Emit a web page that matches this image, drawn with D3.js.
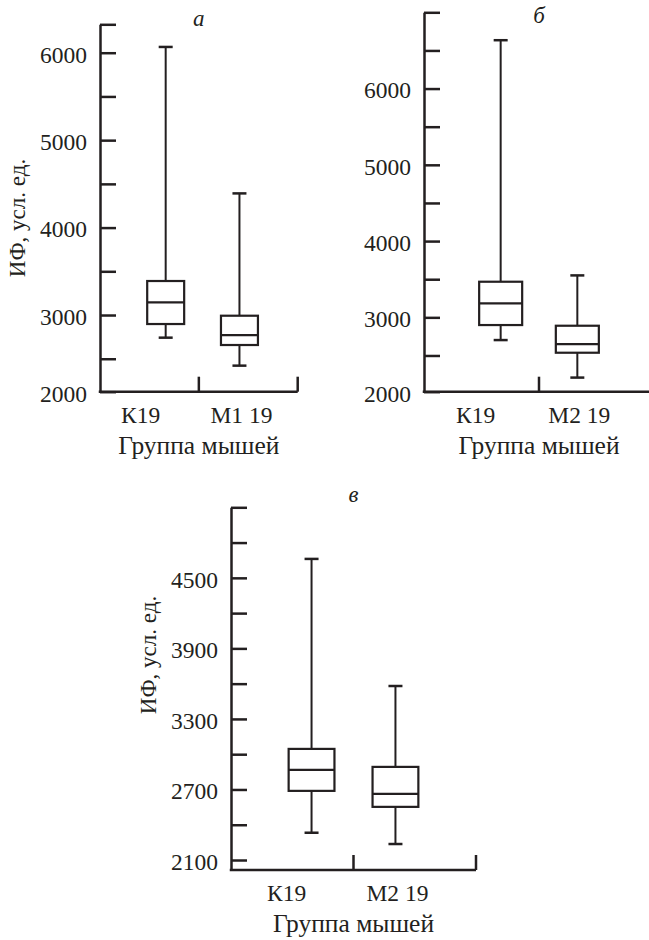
<!DOCTYPE html>
<html>
<head>
<meta charset="utf-8">
<script src="https://cdn.jsdelivr.net/npm/d3@7"></script>
</head>
<body style="margin:0; background:#fff">
<script>
var width = 649;
var height = 940;

// groups per panel
var groupsA = ["К19", "М1 19"];
var groupsB = ["К19", "М2 19"];
var groupsC = ["К19", "М2 19"];

// box stats: lower whisker, q1, median, q3, upper whisker
var lowA = [2741, 2421], q1A = [2897, 2657], medA = [3145, 2771], q3A = [3389, 2992], highA = [6066, 4391];
var lowB = [2702, 2210], q1B = [2899, 2536], medB = [3183, 2650], q3B = [3467, 2890], highB = [6634, 3550];
var lowC = [2332, 2236], q1C = [2688, 2552], medC = [2866, 2663], q3C = [3045, 2892], highC = [4661, 3580];

// axis extents and ticks
var domainA = [2123, 6325], labelTicksA = [2000, 3000, 4000, 5000, 6000], minorTicksA = [2500, 3500, 4500, 5500];
var domainB = [2025, 7000], labelTicksB = [2000, 3000, 4000, 5000, 6000], minorTicksB = [2500, 3500, 4500, 5500, 6500];
var domainC = [2015, 5100], labelTicksC = [2100, 2700, 3300, 3900, 4500], minorTicksC = [2400, 3000, 3600, 4200, 4800];

var yTitle = "ИФ, усл. ед.";
var xTitle = "Группа мышей";

var svg = d3.select("body").append("svg")
            .attr("width", width)
            .attr("height", height)
            .style("font-family", "'Liberation Serif'");

var ink = "#231f20";

// apply font to a text selection
var setFont = function(sel, size, italic) {
    sel.attr("style", "font-family: 'Liberation Serif'; font-size: " + (size || 23) + "px; fill: " + ink + (italic ? "; font-style: italic" : ""));
};

var labelShift = [-25, 2];

var draw = function(p) {
    var g = svg.append("g");
    var y = d3.scaleLinear().domain(p.domain).range([p.bottom, p.top]).clamp(true);
    var xPos = d3.scalePoint().domain(p.groups).range([p.left, p.right]).padding(p.pad).align(p.align);
    var xBand = d3.scaleBand().domain(p.groups).range([p.left, p.right]);
    var W = p.right - p.left;
    var boxW = W * 0.187;
    var capW = 14;

    // y axis, ticks pointing inward
    var allTicks = p.labelTicks.concat(p.minorTicks, [p.domain[1]]);
    var yAxis = d3.axisLeft(y)
        .tickValues(allTicks)
        .tickSizeInner(-16)
        .tickSizeOuter(0)
        .tickPadding(13)
        .tickFormat(function(d) { return p.labelTicks.indexOf(d) >= 0 ? d : ""; });
    var ya = g.append("g").attr("transform", "translate(" + p.left + ",0)").call(yAxis);
    ya.attr("font-family", null).attr("font-size", null);
    ya.selectAll("path, line").attr("stroke", ink).attr("stroke-width", 2.5);
    ya.selectAll("text").attr("dy", "0.4em").call(setFont, 23.5);

    // x axis line with upward ticks at band edges
    g.append("line")
     .attr("x1", p.left - 1.25).attr("x2", p.right)
     .attr("y1", p.bottom).attr("y2", p.bottom)
     .attr("stroke", ink).attr("stroke-width", 2.5);
    g.selectAll(".xtick").data(p.groups).enter().append("line")
     .attr("x1", function(d) { return xBand(d) + xBand.bandwidth(); })
     .attr("x2", function(d) { return xBand(d) + xBand.bandwidth(); })
     .attr("y1", p.bottom).attr("y2", p.bottom - 15)
     .attr("stroke", ink).attr("stroke-width", 2.5);

    // group labels
    g.selectAll(".xlab").data(p.groups).enter().append("text")
     .attr("x", function(d, i) { return xPos(d) + labelShift[i]; })
     .attr("y", p.bottom + 23)
     .attr("dy", "0.35em")
     .attr("text-anchor", "middle")
     .text(function(d) { return d; })
     .call(setFont, 23.5);

    g.append("text")
     .attr("x", p.left + W / 2)
     .attr("y", p.bottom + 53)
     .attr("dy", "0.35em")
     .attr("text-anchor", "middle")
     .text(xTitle)
     .call(setFont, 25.5);

    if (p.titleY) {
        g.append("text")
         .attr("transform", "translate(" + (p.left - 83) + "," + p.titleY + ") rotate(-90)")
         .attr("dy", "0.35em")
         .attr("text-anchor", "middle")
         .text(yTitle)
         .call(setFont, 23);
    }

    // panel letter
    g.append("text")
     .attr("x", p.left + W / 2)
     .attr("y", p.letterY)
     .attr("text-anchor", "middle")
     .text(p.letter)
     .call(setFont, 23, true);

    // boxes
    var boxes = g.selectAll(".box").data(p.groups).enter().append("g");
    boxes.append("line")   // whisker
         .attr("x1", function(d) { return xPos(d); })
         .attr("x2", function(d) { return xPos(d); })
         .attr("y1", function(d, i) { return y(p.low[i]); })
         .attr("y2", function(d, i) { return y(p.high[i]); })
         .attr("stroke", ink).attr("stroke-width", 2);
    boxes.append("line")   // top cap
         .attr("x1", function(d) { return xPos(d) - capW / 2; })
         .attr("x2", function(d) { return xPos(d) + capW / 2; })
         .attr("y1", function(d, i) { return y(p.high[i]); })
         .attr("y2", function(d, i) { return y(p.high[i]); })
         .attr("stroke", ink).attr("stroke-width", 2.5);
    boxes.append("line")   // bottom cap
         .attr("x1", function(d) { return xPos(d) - capW / 2; })
         .attr("x2", function(d) { return xPos(d) + capW / 2; })
         .attr("y1", function(d, i) { return y(p.low[i]); })
         .attr("y2", function(d, i) { return y(p.low[i]); })
         .attr("stroke", ink).attr("stroke-width", 2.5);
    boxes.append("rect")
         .attr("x", function(d) { return xPos(d) - boxW / 2; })
         .attr("width", boxW)
         .attr("y", function(d, i) { return y(p.q3[i]); })
         .attr("height", function(d, i) { return y(p.q1[i]) - y(p.q3[i]); })
         .attr("fill", "#fff")
         .attr("stroke", ink).attr("stroke-width", 2.2);
    boxes.append("line")   // median
         .attr("x1", function(d) { return xPos(d) - boxW / 2; })
         .attr("x2", function(d) { return xPos(d) + boxW / 2; })
         .attr("y1", function(d, i) { return y(p.med[i]); })
         .attr("y2", function(d, i) { return y(p.med[i]); })
         .attr("stroke", ink).attr("stroke-width", 2.2);
};

draw({ groups: groupsA, low: lowA, q1: q1A, med: medA, q3: q3A, high: highA,
       domain: domainA, labelTicks: labelTicksA, minorTicks: minorTicksA, pad: 0.84, align: 0.53,
       left: 100, right: 297.7, top: 24.3, bottom: 391.7, titleY: 218, letter: "а", letterY: 26 });
draw({ groups: groupsB, low: lowB, q1: q1B, med: medB, q3: q3B, high: highB,
       domain: domainB, labelTicks: labelTicksB, minorTicks: minorTicksB, pad: 1, align: 0.5,
       left: 424, right: 654, top: 12.3, bottom: 391.7, titleY: null, letter: "б", letterY: 23 });
draw({ groups: groupsC, low: lowC, q1: q1C, med: medC, q3: q3C, high: highC,
       domain: domainC, labelTicks: labelTicksC, minorTicks: minorTicksC, pad: 0.96, align: 0.5,
       left: 231, right: 476, top: 507.3, bottom: 870, titleY: 655, letter: "в", letterY: 502 });
</script>
</body>
</html>
